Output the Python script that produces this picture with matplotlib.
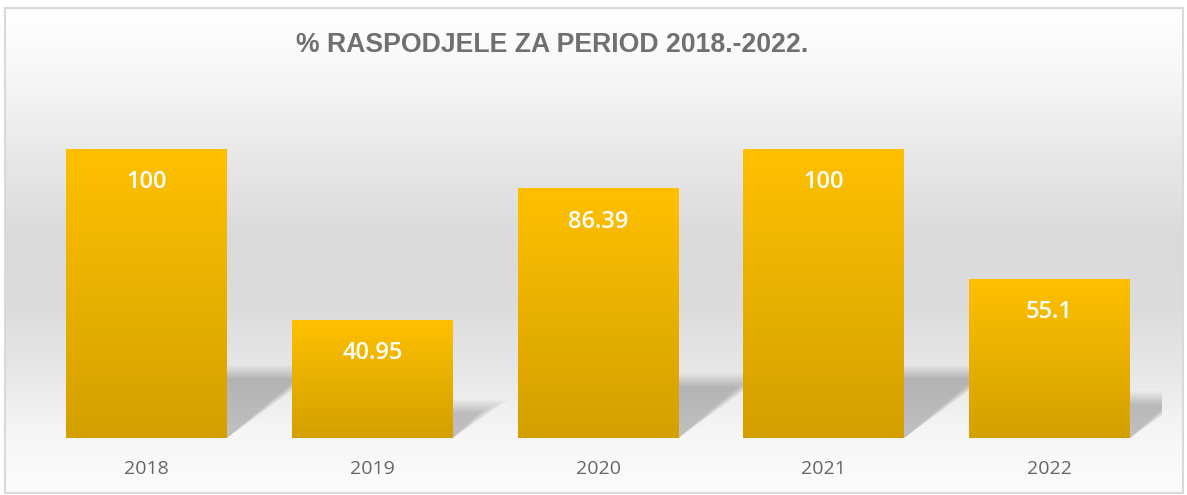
import numpy as np
import matplotlib
matplotlib.use('Agg')
from matplotlib import pyplot as plt
from matplotlib.colors import LinearSegmentedColormap
from matplotlib.patches import Polygon, Rectangle

# data
years = ['2018', '2019', '2020', '2021', '2022']
values = [100, 40.95, 86.39, 100, 55.1]
labels = ['100', '40.95', '86.39', '100', '55.1']
title = '% RASPODJELE ZA PERIOD 2018.-2022.'

W, H = 1187, 495
fig = plt.figure(figsize=(W / 100, H / 100), dpi=100)
fig.patch.set_facecolor('white')

# background gradient for the chart area
bg = fig.add_axes([0, 0, 1, 1], zorder=0)
bg.set_xlim(0, W)
bg.set_ylim(H, 0)
bg.axis('off')
stops = [(0.0, '#ffffff'), (0.12, '#f8f8f8'), (0.30, '#e8e8e8'), (0.48, '#dadada'),
         (0.62, '#dcdcdc'), (0.76, '#e8e8e8'), (0.88, '#f6f6f6'), (1.0, '#fcfcfc')]
bg_cmap = LinearSegmentedColormap.from_list('bg', stops)
grad = np.linspace(0, 1, 256).reshape(-1, 1)
bg.imshow(grad, cmap=bg_cmap, extent=(5, W - 5, H - 3, 8), aspect='auto')
bg.add_patch(Rectangle((4.5, 7.5), W - 9, H - 10, fill=False, edgecolor='#d9d9d9', lw=1.5))

ax = fig.add_axes([0.0283, 0.1152, 0.951, 0.7636], zorder=1)
ax.set_facecolor('none')
x = np.arange(len(years))
bw = 0.713
bars = ax.bar(x, values, width=bw, color='#FFC000', zorder=3)
ax.set_xlim(-0.5, len(years) - 0.5)
ax.set_ylim(0, 130.8)

# soft perspective shadows behind the bars
for xi, v in zip(x, values):
    xl, xr = xi - bw / 2, xi + bw / 2
    n = 18
    for k in range(n):
        s = (k - n / 2) * 0.7
        dy = 0.2 * v + 3 + s * 0.4
        dx = 0.0166 * dy + s * 0.005
        poly = Polygon([(xl, 0), (xr, 0), (xr + dx, dy), (xl + dx, dy)],
                       closed=True, facecolor='black', edgecolor='none',
                       alpha=0.012, zorder=2)
        ax.add_patch(poly)

# gradient fill of the bars
bar_cmap = LinearSegmentedColormap.from_list('bar', ['#D4A000', '#E8B000', '#FFC000'])
for b in bars:
    im = ax.imshow(np.linspace(0, 1, 256).reshape(-1, 1), cmap=bar_cmap, origin='lower',
                   extent=(b.get_x(), b.get_x() + b.get_width(), 0, b.get_height()),
                   aspect='auto', zorder=4)
    im.set_clip_path(b)

ax.set_xlim(-0.5, len(years) - 0.5)
ax.set_ylim(0, 130.8)

for xi, v, lab in zip(x, values, labels):
    ax.annotate(lab, (xi, v), xytext=(0, -24), textcoords='offset points',
                ha='center', va='center', color='white', fontsize=17,
                family='Open Sans', fontweight='semibold', zorder=5)

ax.set_xticks(x)
ax.set_xticklabels(years, fontsize=14, color='#666666', family='Open Sans')
ax.tick_params(axis='x', length=0, pad=16)
ax.set_yticks([])
for sp in ax.spines.values():
    sp.set_visible(False)

fig.text(552 / W, 1 - 45 / H, title, ha='center', va='center', fontsize=19.2,
         fontweight='bold', color='#707070', family='Liberation Sans')

fig.savefig('out.png', dpi=100)
